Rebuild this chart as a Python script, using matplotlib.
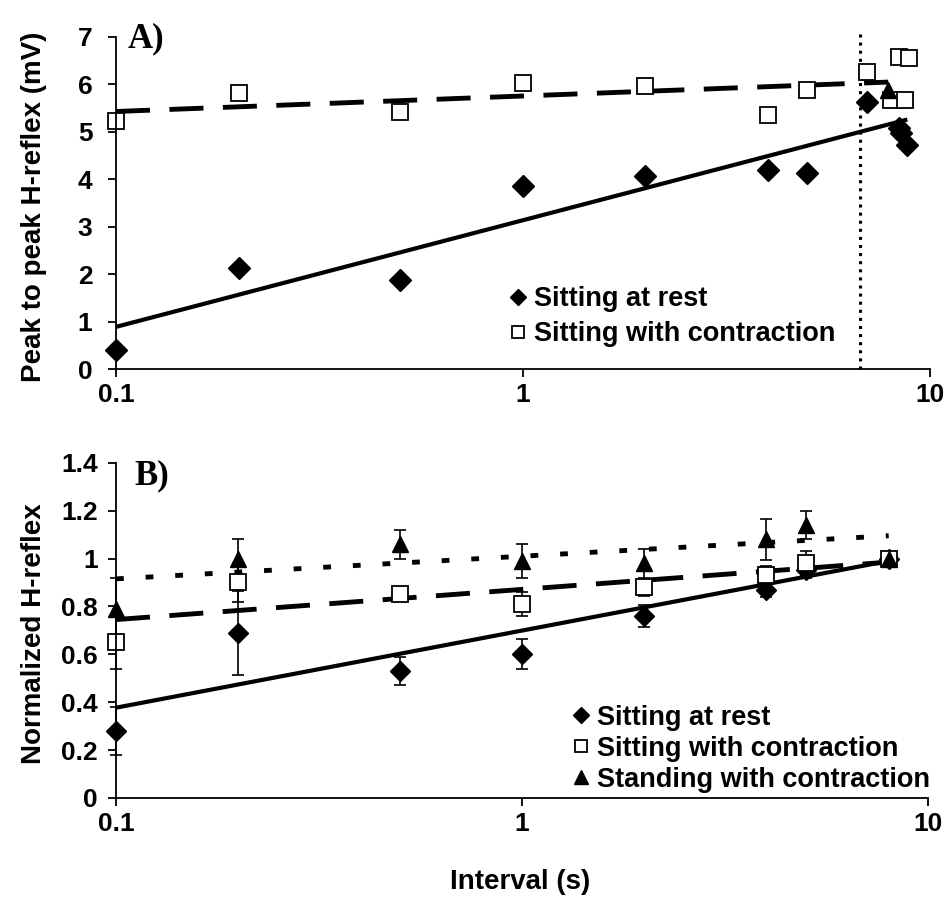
import matplotlib
matplotlib.use("Agg")
import matplotlib.pyplot as plt
from matplotlib.ticker import FixedLocator, FixedFormatter, NullLocator

plt.rcParams['font.family'] = ['Liberation Sans', 'DejaVu Sans']
plt.rcParams['font.weight'] = 'bold'

# Panel A data (peak to peak, mV)
rest_x_a = [0.1, 0.2, 0.5, 1, 2, 4, 5, 7, 8.4, 8.5, 8.8]
rest_y_a = [0.40, 2.13, 1.88, 3.85, 4.06, 4.20, 4.13, 5.63, 5.08, 4.98, 4.73]
contr_x_a = [0.1, 0.2, 0.5, 1, 2, 4, 5, 7, 8, 8.4, 8.7, 8.9]
contr_y_a = [5.22, 5.82, 5.42, 6.03, 5.97, 5.36, 5.89, 6.27, 5.67, 6.58, 5.67, 6.56]
stand_x_a = [7.9]
stand_y_a = [5.89]
# trend line end values (x, y)
trend_rest_a = ([0.1, 8.7], [0.89, 5.25])
trend_contr_a = ([0.1, 7.9], [5.43, 6.05])
vline_x = 6.75
vline_top = 7.15

# Panel B data (normalized)
x_b = [0.1, 0.2, 0.5, 1, 2, 4, 5, 8]
rest_b = [0.28, 0.69, 0.53, 0.60, 0.76, 0.87, 0.95, 1.0]
rest_err = [0.10, 0.175, 0.06, 0.063, 0.045, 0.03, 0.03, 0.0]
contr_b = [0.65, 0.90, 0.85, 0.81, 0.88, 0.93, 0.98, 1.0]
contr_err = [0.11, 0.08, 0.02, 0.05, 0.035, 0.04, 0.05, 0.0]
stand_b = [0.79, 1.00, 1.06, 0.99, 0.98, 1.08, 1.14, 1.0]
stand_err = [0.13, 0.08, 0.06, 0.07, 0.06, 0.085, 0.06, 0.0]
trend_rest_b = ([0.1, 8], [0.377, 0.99])
trend_contr_b = ([0.1, 8], [0.745, 0.985])
trend_stand_b = ([0.1, 8], [0.915, 1.095])

x_ticks = [0.1, 1, 10]
x_labels = ['0.1', '1', '10']

fig = plt.figure(figsize=(9.47, 8.98), dpi=100)
ax1 = fig.add_axes([0.1225, 0.589, 0.8595, 0.3698])
ax2 = fig.add_axes([0.1225, 0.1114, 0.8575, 0.3733])


def style_axes(ax, ypad):
    ax.set_xscale('log')
    ax.set_xlim(0.1, 10)
    ax.xaxis.set_major_locator(FixedLocator(x_ticks))
    ax.xaxis.set_major_formatter(FixedFormatter(x_labels))
    ax.xaxis.set_minor_locator(NullLocator())
    for s in ['top', 'right']:
        ax.spines[s].set_visible(False)
    for s in ['left', 'bottom']:
        ax.spines[s].set_linewidth(1.3)
    ax.tick_params(direction='out', length=6, width=1.3, labelsize=19)
    ax.tick_params(axis='y', pad=ypad)
    ax.tick_params(axis='x', pad=4)


# ---- Panel A
style_axes(ax1, 11)
ax1.set_ylim(0, 7)
ax1.set_yticks(range(0, 8))
ax1.plot(*trend_rest_a, color='black', lw=3)
ax1.plot(*trend_contr_a, color='black', lw=3.5, linestyle=(0, (7, 4)))
ax1.plot([vline_x, vline_x], [0, vline_top], color='black', lw=2.2,
         linestyle=':', clip_on=False)
ax1.plot(rest_x_a, rest_y_a, 'D', color='black', ms=11, label='Sitting at rest',
         clip_on=False)
ax1.plot(contr_x_a, contr_y_a, 's', mfc='white', mec='black', mew=1.3, ms=12,
         label='Sitting with contraction', clip_on=False)
ax1.plot(stand_x_a, stand_y_a, '^', color='black', ms=12)
ax1.set_ylabel('Peak to peak H-reflex (mV)', fontsize=20, fontweight='bold')
ax1.yaxis.set_label_coords(-0.085, 0.49)
ax1.text(0.014, 1.045, 'A)', transform=ax1.transAxes, fontsize=25,
         fontweight='bold', family='Liberation Serif', va='top', ha='left')
ax1.legend(loc='upper left', bbox_to_anchor=(0.482, 0.25), frameon=False,
           handlelength=0.7, handletextpad=0.25, borderpad=0, borderaxespad=0,
           labelspacing=0.33, markerscale=0.75,
           prop={'size': 19.5, 'weight': 'bold'})

# ---- Panel B
style_axes(ax2, 7)
ax2.set_ylim(0, 1.4)
ax2.set_yticks([0, 0.2, 0.4, 0.6, 0.8, 1.0, 1.2, 1.4])
ax2.set_yticklabels(['0', '0.2', '0.4', '0.6', '0.8', '1', '1.2', '1.4'])
ax2.plot(*trend_rest_b, color='black', lw=3)
ax2.plot(*trend_contr_b, color='black', lw=3.5, linestyle=(0, (7, 4)))
ax2.plot(*trend_stand_b, color='black', lw=3.5, linestyle=(0, (1.6, 4.5)))
ax2.errorbar(x_b, rest_b, yerr=rest_err, fmt='none', ecolor='black',
             elinewidth=1.2, capsize=4.5, capthick=1.2, clip_on=False)
ax2.errorbar(x_b, contr_b, yerr=contr_err, fmt='none', ecolor='black',
             elinewidth=1.2, capsize=4.5, capthick=1.2, clip_on=False)
ax2.errorbar(x_b, stand_b, yerr=stand_err, fmt='none', ecolor='black',
             elinewidth=1.2, capsize=4.5, capthick=1.2, clip_on=False)
ax2.plot(x_b, rest_b, 'D', color='black', ms=10, label='Sitting at rest',
         clip_on=False)
ax2.plot(x_b, contr_b, 's', mfc='white', mec='black', mew=1.3, ms=11,
         label='Sitting with contraction', clip_on=False)
ax2.plot(x_b, stand_b, '^', color='black', ms=12,
         label='Standing with contraction', clip_on=False)
ax2.set_ylabel('Normalized H-reflex', fontsize=20, fontweight='bold')
ax2.yaxis.set_label_coords(-0.085, 0.49)
ax2.set_xlabel('Interval (s)', fontsize=20, fontweight='bold')
ax2.xaxis.set_label_coords(0.4975, -0.212)
ax2.text(0.023, 1.01, 'B)', transform=ax2.transAxes, fontsize=25,
         fontweight='bold', family='Liberation Serif', va='top', ha='left')
ax2.legend(loc='upper left', bbox_to_anchor=(0.561, 0.278), frameon=False,
           handlelength=0.7, handletextpad=0.25, borderpad=0, borderaxespad=0,
           labelspacing=0.18, markerscale=0.8,
           prop={'size': 19.5, 'weight': 'bold'})

fig.savefig('out.png', dpi=100)
